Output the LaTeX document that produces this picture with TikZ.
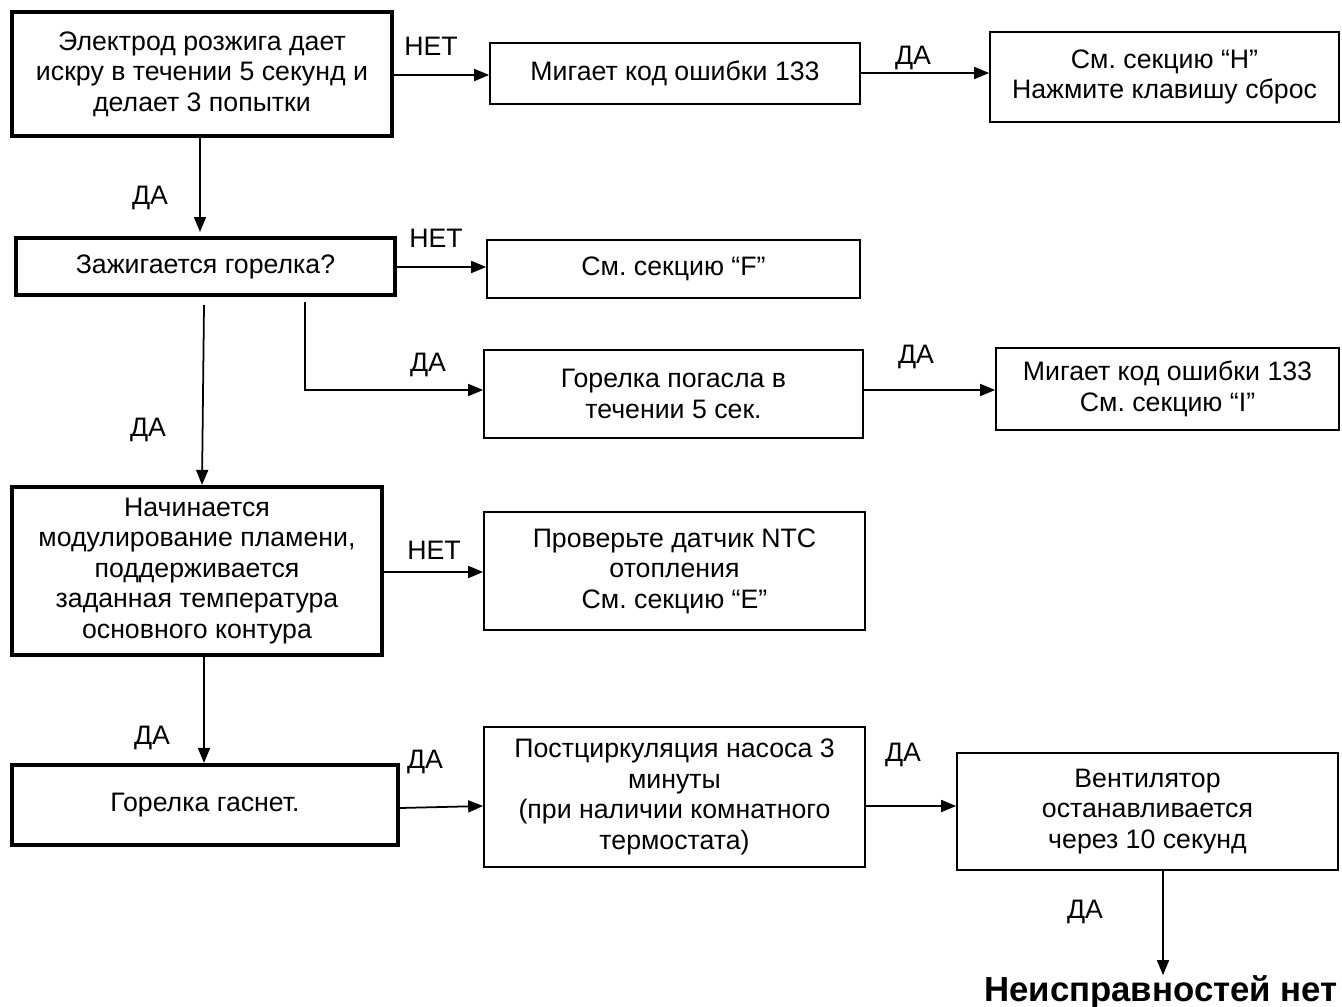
\documentclass[tikz,border=0pt]{standalone}
\usepackage{fontspec}
\setmainfont{Liberation Sans}
\usetikzlibrary{arrows.meta}
\begin{document}
\frenchspacing
\begin{tikzpicture}[x=0.02cm,y=-0.02cm,
  font=\fontsize{15.2pt}{17.4pt}\selectfont,
  box/.style={draw,line width=1pt,inner sep=0pt,align=center},
  tbox/.style={draw,line width=2.4pt,inner sep=0pt,align=center},
  arr/.style={line width=1pt,-{Triangle[length=0.3cm,width=0.24cm]}},
  lbl/.style={inner sep=0pt}]
\useasboundingbox (0,0) rectangle (1342,1007);
% boxes
\node[tbox,minimum width=7.6cm,minimum height=2.48cm] (b1) at (202,74) {Электрод розжига дает\\искру в течении 5 секунд и\\делает 3 попытки};
\node[box,minimum width=7.4cm,minimum height=1.22cm] (b2) at (675,73.5) {Мигает код ошибки 133};
\node[box,minimum width=6.98cm,minimum height=1.8cm] (b3) at (1164.5,77) {См. секцию “H”\\Нажмите клавишу сброс};
\node[tbox,minimum width=7.58cm,minimum height=1.14cm] (b4) at (205.5,266.5) {Зажигается горелка?};
\node[box,minimum width=7.46cm,minimum height=1.16cm] (b5) at (673.5,269) {См. секцию “F”};
\node[box,minimum width=7.58cm,minimum height=1.76cm] (b6) at (673.5,394) {Горелка погасла в\\течении 5 сек.};
\node[box,minimum width=6.86cm,minimum height=1.64cm] (b7) at (1167.5,389) {Мигает код ошибки 133\\См. секцию “I”};
\node[tbox,minimum width=7.4cm,minimum height=3.36cm] (b8) at (197,571) {Начинается\\модулирование пламени,\\поддерживается\\заданная температура\\основного контура};
\node[box,minimum width=7.62cm,minimum height=2.36cm] (b9) at (674.5,571) {Проверьте датчик NTC\\отопления\\См. секцию “E”};
\node[tbox,minimum width=7.72cm,minimum height=1.6cm] (b10) at (205,805) {Горелка гаснет.};
\node[box,minimum width=7.62cm,minimum height=2.8cm] (b11) at (674.5,797) {Постциркуляция насоса 3\\минуты\\(при наличии комнатного\\термостата)};
\node[box,minimum width=7.62cm,minimum height=2.34cm] (b12) at (1147.5,811.5) {Вентилятор\\останавливается\\через 10 секунд};
\node[font=\fontsize{19.8pt}{23pt}\selectfont\bfseries,inner sep=0pt] (end) at (1161,992) {Неисправностей нет};
% coordinates
\coordinate (c4a) at (305,302);
\coordinate (c4b) at (204,305);
% connectors
\draw[arr] (b1.east |- 0,75) -- (b2.west |- 0,75);
\draw[arr] (b2.east |- 0,73) -- (b3.west |- 0,73);
\draw[arr] (b1.south -| 200,0) -- (200,232);
\draw[arr] (b4.east |- 0,267) -- (b5.west |- 0,267);
\draw[arr] (c4a) |- (b6.west |- 0,390);
\draw[arr] (b6.east |- 0,390) -- (b7.west |- 0,390);
\draw[arr] (c4b) -- (b8.north -| 202,0);
\draw[arr] (b8.east |- 0,572) -- (b9.west |- 0,572);
\draw[arr] (b8.south -| 204,0) -- (b10.north -| 204,0);
\draw[arr] (b10.east |- 0,808) -- (b11.west |- 0,806);
\draw[arr] (b11.east |- 0,806) -- (b12.west |- 0,806);
\draw[arr] (b12.south -| 1163,0) -- (end.north -| 1163,0);
% labels
\node[lbl] at (431,46) {НЕТ};
\node[lbl] at (913,58) {ДА};
\node[lbl] at (150,198) {ДА};
\node[lbl] at (436,238) {НЕТ};
\node[lbl] at (428,365) {ДА};
\node[lbl] at (916,357) {ДА};
\node[lbl] at (148,430) {ДА};
\node[lbl] at (434,550) {НЕТ};
\node[lbl] at (152,738) {ДА};
\node[lbl] at (425,762) {ДА};
\node[lbl] at (903,755) {ДА};
\node[lbl] at (1085,912) {ДА};
\end{tikzpicture}
\end{document}
